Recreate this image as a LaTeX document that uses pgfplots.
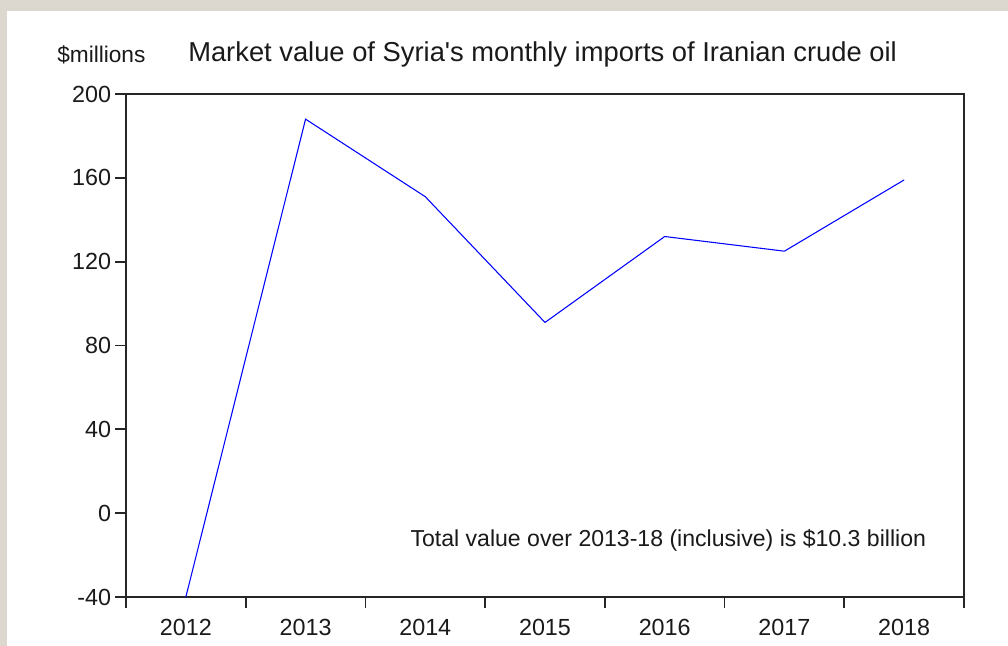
\documentclass[border=0pt]{standalone}
\usepackage{fontspec}
\setmainfont{Liberation Sans}
\usepackage{pgfplots}
\pgfplotsset{compat=1.18}
\definecolor{bggrey}{HTML}{DCD8CF}
\definecolor{txt}{HTML}{1A1A1A}
\begin{document}
\begin{tikzpicture}
\path[use as bounding box, fill=bggrey] (0pt,0pt) rectangle (756pt,484.5pt);
\fill[white] (5.25pt,0pt) rectangle (756pt,476.25pt);
\begin{axis}[
  at={(94.5pt,36.75pt)}, anchor=south west,
  scale only axis, width=628.5pt, height=377.25pt,
  xmin=0, xmax=7, ymin=-40, ymax=200,
  xtick={0,1,2,3,4,5,6,7},
  xticklabels={2012,2013,2014,2015,2016,2017,2018},
  x tick label as interval,
  ytick={-40,0,40,80,120,160,200},
  tick align=outside,
  xtick pos=bottom, ytick pos=left,
  major tick length=8pt,
  axis line style={black!85, line width=1.3pt},
  every tick/.style={black!85, line width=1.3pt},
  tick label style={font=\fontsize{17.5}{20}\selectfont, text=txt},
  /pgf/number format/assume math mode=true,
  yticklabel style={xshift=0.3pt},
  xticklabel style={yshift=-5pt},
  clip=true,
]
\addplot[color=blue, line width=0.8pt] coordinates {
  (0.5,-40) (1.5,188) (2.5,151) (3.5,91) (4.5,132) (5.5,125) (6.5,159)
};
\node[font=\fontsize{17.3}{20}\selectfont, text=txt] at (axis cs:4.53,-13) {Total value over 2013-18 (inclusive) is \$10.3 billion};
\end{axis}
\node[anchor=west, inner sep=0pt, font=\fontsize{20.5}{24}\selectfont, text=txt] at (141pt,443.5pt) {Market value of Syria\textquotesingle s monthly imports of Iranian crude oil};
\node[anchor=west, inner sep=0pt, font=\fontsize{17}{20}\selectfont, text=txt] at (42.75pt,443pt) {\$millions};
\end{tikzpicture}
\end{document}
